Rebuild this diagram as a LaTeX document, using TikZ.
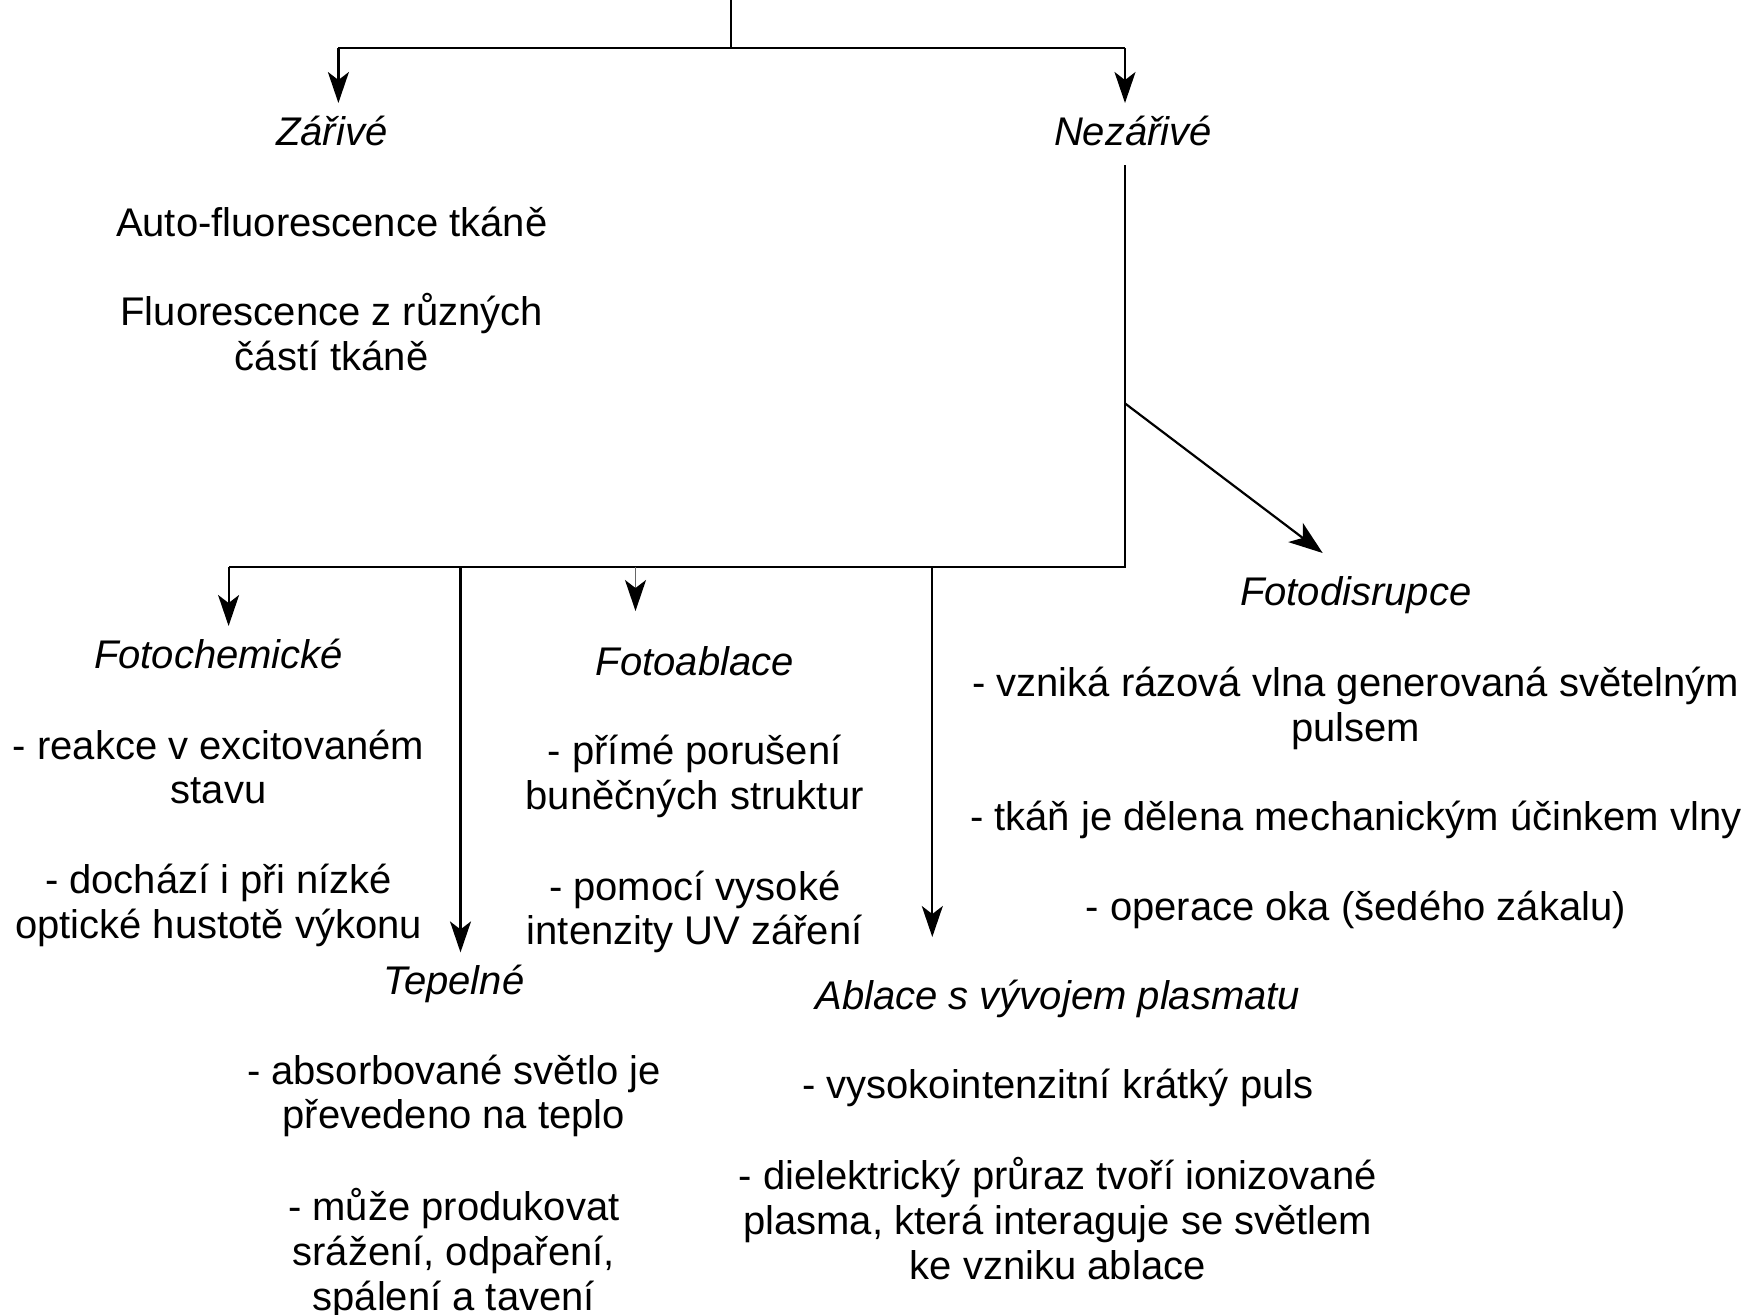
\documentclass[tikz,border=0pt]{standalone}
\usepackage{fontspec}
\setmainfont{Liberation Sans}
\usetikzlibrary{arrows.meta}
\newcommand{\lines}[1]{\begin{tabular}[t]{@{}c@{}}#1\end{tabular}}
\begin{document}
\begin{tikzpicture}[x=0.5pt,y=-0.5pt,
  txt/.style={anchor=base, inner sep=0pt, font=\fontsize{20}{22.4}\selectfont},
  head/.style={anchor=base, inner sep=0pt, font=\fontsize{20}{22.4}\selectfont\itshape,
    text height=15pt, text depth=4pt, outer ysep=6pt},
  link/.style={line width=1.1pt},
  tip/.style={-{Stealth[length=15.5pt,width=10.5pt,inset=4pt,color=black]}},
  arr/.style={link, tip},
  thinarr/.style={line width=0.7pt, black!60, tip},
  bigarr/.style={link, -{Stealth[length=17pt,width=12pt,inset=4.5pt]}},
]
\useasboundingbox (0,0) rectangle (1757,1314);

% headings
\node[head] (zar)   at (331.7,145)  {Zářivé};
\node[head] (nez)   at (1133,145)   {Nezářivé};
\node[head] (fchem) at (218.5,668)  {Fotochemické};
\node[head] (fabl)  at (694.7,675)  {Fotoablace};
\node[head] (tep)   at (453.8,994.4){Tepelné};
\node[head] (plas)  at (1057.8,1009){Ablace s vývojem plasmatu};
\node[head] (fdis)  at (1355.8,605.6){Fotodisrupce};

% descriptions
\node[txt] (zar1) at (331.7,236)  {Auto-fluorescence tkáně};
\node[txt] (zar2) at (331.7,325.5){\lines{Fluorescence z různých\\částí tkáně}};

\node[txt] (fc1) at (218.5,759)   {\lines{- reakce v excitovaném\\stavu}};
\node[txt] (fc2) at (218.5,893.6) {\lines{- dochází i při nízké\\optické hustotě výkonu}};

\node[txt] (fa1) at (694.7,764.7) {\lines{- přímé porušení\\buněčných struktur}};
\node[txt] (fa2) at (694.7,900)   {\lines{- pomocí vysoké\\intenzity UV záření}};

\node[txt] (tp1) at (453.8,1084)  {\lines{- absorbované světlo je\\převedeno na teplo}};
\node[txt] (tp2) at (453.8,1220.8){\lines{- může produkovat\\srážení, odpaření,\\spálení a tavení}};

\node[txt] (pl1) at (1057.8,1098.6){- vysokointenzitní krátký puls};
\node[txt] (pl2) at (1057.8,1189.4){\lines{- dielektrický průraz tvoří ionizované\\plasma, která interaguje se světlem\\ke vzniku ablace}};

\node[txt] (fd1) at (1355.8,696.4){\lines{- vzniká rázová vlna generovaná světelným\\pulsem}};
\node[txt] (fd2) at (1355.8,830.8){- tkáň je dělena mechanickým účinkem vlny};
\node[txt] (fd3) at (1355.8,920.5){- operace oka (šedého zákalu)};

% junction points of the tree
\coordinate (root) at (731,0);
\coordinate (top)  at (731,48);
\coordinate (topL) at (338.4,48);
\coordinate (topR) at (1125,48);
\coordinate (bar)  at (1125,567);
\coordinate (barL) at (228.6,567);
\coordinate (jTep) at (460.5,567);
\coordinate (jAbl) at (635.5,567);
\coordinate (jPl)  at (932.3,567);
\coordinate (diag) at (1125,403.4);
\coordinate (fdisTip) at (1322.7,553);

% upper split
\draw[link] (root) -- (top);
\draw[link] (topL) -- (topR);
\draw[arr] (topL) -- (topL |- zar.north);
\draw[arr] (topR) -- (topR |- nez.north);

% lower split
\draw[link] (bar |- nez.south) -- (bar) -- (barL);
\draw[arr] (barL) -- (barL |- fchem.north);
\draw[arr] (jTep) -- (jTep |- tep.north);
\draw[thinarr, shorten >=11] (jAbl) -- (jAbl |- fabl.north);
\draw[arr, shorten >=15] (jPl) -- (jPl |- plas.north);
\draw[bigarr] (diag) -- (fdisTip);

\end{tikzpicture}
\end{document}
